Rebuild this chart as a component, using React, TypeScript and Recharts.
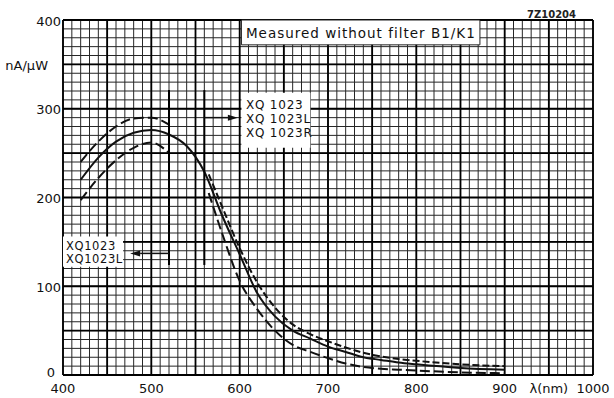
import React from "react";
import {
  LineChart,
  Line,
  XAxis,
  YAxis,
  CartesianGrid,
  ReferenceLine,
  ReferenceArea,
} from "recharts";

// spectral response, nA/uW against wavelength (nm)
const solidNm = [420, 440, 460, 480, 500, 520, 540, 560, 580, 600, 620, 640, 660, 680, 700, 720, 740, 760, 780, 800, 850, 900];
const solidVal = [220, 245, 263, 273, 276, 271, 258, 229, 180, 136, 92, 66, 50, 41, 32, 26, 20, 17, 14, 12, 8, 6];

// dashed spread, short wavelength side (XQ1023 / XQ1023L)
const leftNm = [420, 440, 460, 480, 500, 520];
const leftUpperVal = [240, 263, 280, 289, 290, 282];
const leftLowerVal = [197, 222, 242, 256, 262, 250];

// dashed spread, long wavelength side (XQ1023 / L / R)
const rightNm = [565, 580, 600, 620, 640, 660, 680, 700, 720, 740, 760, 780, 800, 850, 900];
const rightUpperVal = [226, 190, 143, 104, 76, 57, 46, 38, 31, 25, 21, 18, 16, 12, 10];
const rightLowerVal = [205, 160, 106, 74, 50, 34, 26, 19, 13, 9, 7, 6, 5, 3, 2];

// axes
const xMajor = [400, 450, 500, 550, 600, 650, 700, 750, 800, 850, 900, 950, 1000];
const yMajor = [0, 50, 100, 150, 200, 250, 300, 350, 400];
const xLabelTicks = [400, 500, 600, 700, 800, 900, 950, 1000];
const xLabelText = ["400", "500", "600", "700", "800", "900", "\u03bb(nm)", "1000"];
const yLabelTicks = [0, 100, 200, 300, 350, 400];
const yLabelText = ["0", "100", "200", "300", "nA/\u03bcW", "400"];
const xMinor = Array.from({ length: 61 }, (_, i) => 400 + i * 10);
const yMinor = Array.from({ length: 41 }, (_, i) => i * 10);

// annotations
const markerNm = [520, 560];
const markerSpan = [124, 321];
const rightArrow = { from: 560, to: 598, at: 290 };
const leftArrow = { from: 520, to: 476, at: 137 };
const noteBox = { x1: 602, x2: 872, y1: 372, y2: 400 };
const rightBox = { x1: 602, x2: 680, y1: 256, y2: 318 };
const leftBox = { x1: 400, x2: 468, y1: 122, y2: 156 };
const noteText = ["Measured without filter B1/K1"];
const rightBoxText = ["XQ 1023", "XQ 1023L", "XQ 1023R"];
const leftBoxText = ["XQ1023", "XQ1023L"];

const font = "'DejaVu Sans', sans-serif";

const toRows = (xs: number[], vs: number[]) => xs.map((nm, i) => ({ nm, v: vs[i] }));

const YTick = (props: any) => {
  const { x, y, payload } = props;
  const idx = yLabelTicks.indexOf(payload.value);
  if (idx < 0) return null;
  const isUnit = payload.value === 350;
  const isZero = payload.value === 0;
  return (
    <text
      x={isUnit ? x - 13 : isZero ? x - 6 : x}
      y={isZero ? y - 3 : y + 1}
      textAnchor="end"
      dominantBaseline="central"
      fontSize={13}
      fontFamily={font}
      fill="#111"
    >
      {yLabelText[idx]}
    </text>
  );
};

const XTick = (props: any) => {
  const { x, y, payload } = props;
  const idx = xLabelTicks.indexOf(payload.value);
  if (idx < 0) return null;
  return (
    <text x={x} y={y + 18} textAnchor="middle" fontSize={13} fontFamily={font} fill="#111">
      {xLabelText[idx]}
    </text>
  );
};

const boxLabel =
  (lines: string[], size: number, padX: number, first: number, step: number, spacing: number) =>
  (props: any) => {
    const vb = props.viewBox || {};
    return (
      <g>
        {lines.map((t, i) => (
          <text
            key={i}
            x={vb.x + padX}
            y={vb.y + first + i * step}
            dominantBaseline="central"
            fontSize={size}
            letterSpacing={spacing}
            fontFamily={font}
            fill="#111"
          >
            {t}
          </text>
        ))}
      </g>
    );
  };

const Arrow = (props: any) => {
  const { x1, y1, x2, y2 } = props;
  const ang = Math.atan2(y2 - y1, x2 - x1);
  const len = 10;
  const half = 3;
  const bx = x2 - len * Math.cos(ang);
  const by = y2 - len * Math.sin(ang);
  const pts = `${x2},${y2} ${bx + half * Math.sin(ang)},${by - half * Math.cos(ang)} ${bx - half * Math.sin(ang)},${by + half * Math.cos(ang)}`;
  return (
    <g>
      <line x1={x1} y1={y1} x2={bx} y2={by} stroke="#111" strokeWidth={1.5} />
      <polygon points={pts} fill="#111" />
    </g>
  );
};

export default function App() {
  return (
    <div style={{ position: "absolute", left: 0, top: 0, width: 614, height: 398, background: "#fff" }}>
      <LineChart width={614} height={398} margin={{ top: 20, right: 21, bottom: 0, left: 0 }}>
        <XAxis
          dataKey="nm"
          type="number"
          domain={[400, 1000]}
          ticks={xMajor}
          interval={0}
          height={23}
          tickSize={0}
          tickMargin={0}
          axisLine={false}
          tickLine={false}
          tick={<XTick />}
          allowDataOverflow
        />
        <YAxis
          type="number"
          domain={[0, 400]}
          ticks={yMajor}
          interval={0}
          width={63}
          tickSize={0}
          tickMargin={2}
          axisLine={false}
          tickLine={false}
          tick={<YTick />}
          allowDataOverflow
        />

        <CartesianGrid verticalValues={xMinor} horizontalValues={yMinor} stroke="#262626" strokeWidth={1} />
        <CartesianGrid verticalValues={xMajor} horizontalValues={yMajor} stroke="#000" strokeWidth={1.8} />

        <Line data={toRows(solidNm, solidVal)} dataKey="v" type="monotone" stroke="#111" strokeWidth={2} dot={false} isAnimationActive={false} />
        <Line data={toRows(leftNm, leftUpperVal)} dataKey="v" type="monotone" stroke="#111" strokeWidth={2} strokeDasharray="10 4" dot={false} isAnimationActive={false} />
        <Line data={toRows(leftNm, leftLowerVal)} dataKey="v" type="monotone" stroke="#111" strokeWidth={2} strokeDasharray="10 4" dot={false} isAnimationActive={false} />
        <Line data={toRows(rightNm, rightUpperVal)} dataKey="v" type="monotone" stroke="#111" strokeWidth={2} strokeDasharray="7 3" dot={false} isAnimationActive={false} />
        <Line data={toRows(rightNm, rightLowerVal)} dataKey="v" type="monotone" stroke="#111" strokeWidth={2} strokeDasharray="10 4" dot={false} isAnimationActive={false} />

        {markerNm.map((nm) => (
          <ReferenceLine
            key={nm}
            segment={[{ x: nm, y: markerSpan[0] }, { x: nm, y: markerSpan[1] }]}
            stroke="#000"
            strokeWidth={2}
          />
        ))}
        <ReferenceLine
          segment={[{ x: rightArrow.from, y: rightArrow.at }, { x: rightArrow.to, y: rightArrow.at }]}
          shape={Arrow}
        />
        <ReferenceLine
          segment={[{ x: leftArrow.from, y: leftArrow.at }, { x: leftArrow.to, y: leftArrow.at }]}
          shape={Arrow}
        />

        <ReferenceArea
          {...noteBox}
          fill="#fff"
          fillOpacity={1}
          stroke="#222"
          strokeWidth={1}
          ifOverflow="visible"
          label={boxLabel(noteText, 13.5, 4.5, 13, 0, 1)}
        />
        <ReferenceArea
          {...rightBox}
          fill="#fff"
          fillOpacity={1}
          ifOverflow="visible"
          label={boxLabel(rightBoxText, 12, 4.5, 12, 14, 0.8)}
        />
        <ReferenceArea
          {...leftBox}
          fill="#fff"
          fillOpacity={1}
          ifOverflow="visible"
          label={boxLabel(leftBoxText, 11.5, 3, 9, 13, 0.6)}
        />
      </LineChart>
      <div
        style={{
          position: "absolute",
          left: 527,
          top: 9,
          fontFamily: font,
          fontSize: 10,
          fontWeight: "bold",
          color: "#222",
          lineHeight: "12px",
        }}
      >
        7Z10204
      </div>
    </div>
  );
}
